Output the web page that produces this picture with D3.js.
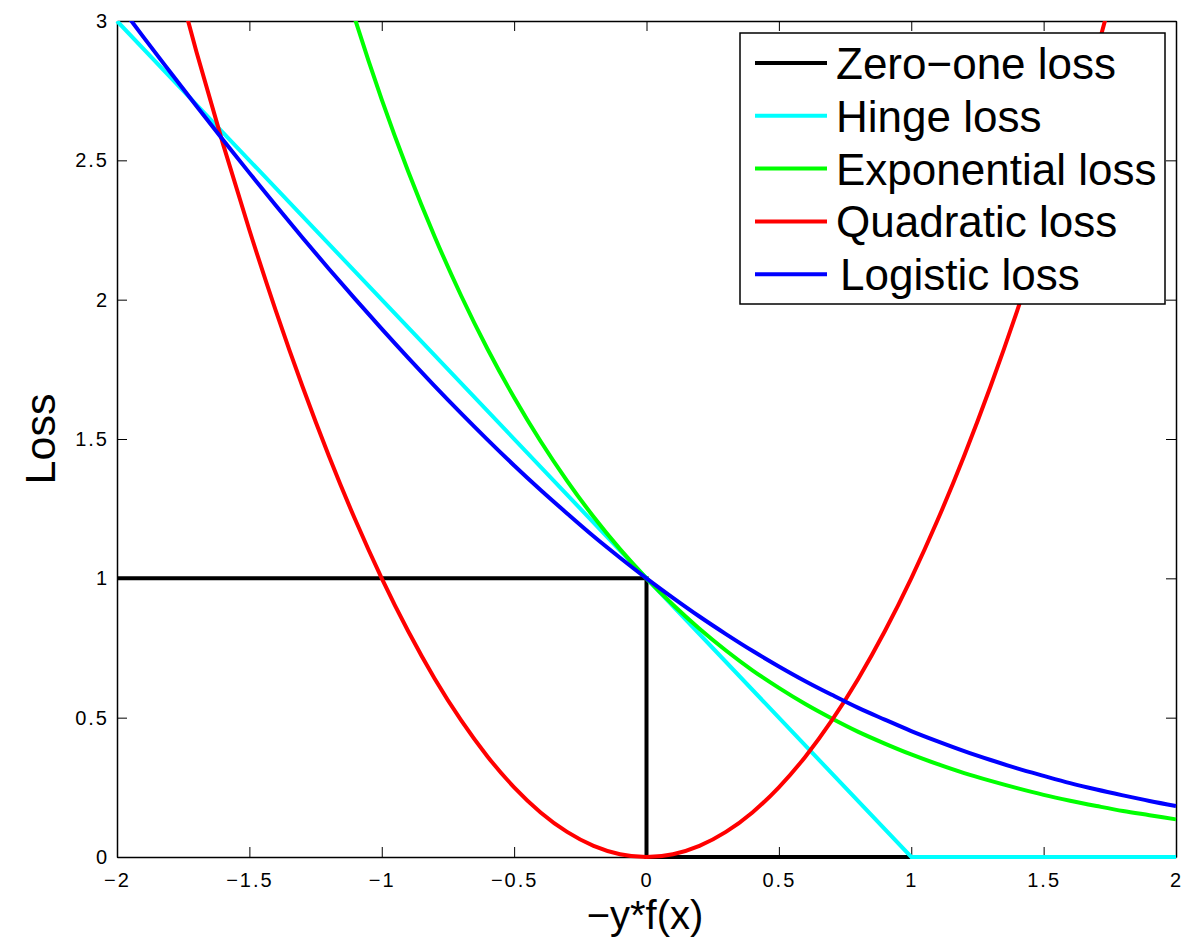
<!DOCTYPE html>
<html>
<head>
<meta charset="utf-8">
<script src="https://cdn.jsdelivr.net/npm/d3@7"></script>
<style>
  body { margin: 0; background: #fff; }
  text { font-family: "Liberation Sans", Arial, sans-serif; fill: #000; }
</style>
</head>
<body>
<script>
// data

var xs = [-2.0, -1.9, -1.8, -1.7, -1.6, -1.5, -1.4, -1.3, -1.2, -1.1, -1.0,
          -0.9, -0.8, -0.7, -0.6, -0.5, -0.4, -0.3, -0.2, -0.1, 0.0,
          0.1, 0.2, 0.3, 0.4, 0.5, 0.6, 0.7, 0.8, 0.9, 1.0,
          1.1, 1.2, 1.3, 1.4, 1.5, 1.6, 1.7, 1.8, 1.9, 2.0];

var quadraticLoss = [4.00, 3.61, 3.24, 2.89, 2.56, 2.25, 1.96, 1.69, 1.44, 1.21, 1.00,
                     0.81, 0.64, 0.49, 0.36, 0.25, 0.16, 0.09, 0.04, 0.01, 0.00,
                     0.01, 0.04, 0.09, 0.16, 0.25, 0.36, 0.49, 0.64, 0.81, 1.00,
                     1.21, 1.44, 1.69, 1.96, 2.25, 2.56, 2.89, 3.24, 3.61, 4.00];

var exponentialLoss = [7.389, 6.686, 6.050, 5.474, 4.953, 4.482, 4.055, 3.669, 3.320, 3.004, 2.718,
                       2.460, 2.226, 2.014, 1.822, 1.649, 1.492, 1.350, 1.221, 1.105, 1.000,
                       0.905, 0.819, 0.741, 0.670, 0.607, 0.549, 0.497, 0.449, 0.407, 0.368,
                       0.333, 0.301, 0.273, 0.247, 0.223, 0.202, 0.183, 0.165, 0.150, 0.135];

var logisticLoss = [3.069, 2.942, 2.818, 2.695, 2.574, 2.455, 2.338, 2.223, 2.111, 2.002, 1.895,
                    1.791, 1.690, 1.592, 1.497, 1.405, 1.317, 1.233, 1.151, 1.074, 1.000,
                    0.930, 0.863, 0.800, 0.740, 0.684, 0.631, 0.582, 0.535, 0.493, 0.452,
                    0.415, 0.380, 0.348, 0.318, 0.291, 0.265, 0.242, 0.221, 0.201, 0.183];

var hingeX = [-2, 1, 2];
var hingeLoss = [3, 0, 0];

var zeroOneX = [-2, 0, 0, 2];
var zeroOneLoss = [1, 1, 0, 0];

var xTicks = [-2, -1.5, -1, -0.5, 0, 0.5, 1, 1.5, 2];
var xTickLabels = ["\u22122", "\u22121.5", "\u22121", "\u22120.5", "0", "0.5", "1", "1.5", "2"];
var yTicks = [0, 0.5, 1, 1.5, 2, 2.5, 3];
var yTickLabels = ["0", "0.5", "1", "1.5", "2", "2.5", "3"];

var seriesNames = ["Zero\u2212one loss", "Hinge loss", "Exponential loss", "Quadratic loss", "Logistic loss"];
var seriesColors = ["#000000", "#00ffff", "#00ff00", "#ff0000", "#0000ff"];

// layout (note: "top" is taken by window.top, so plot edges get their own names)

var width = 1184, height = 938;
var plotLeft = 117, plotRight = 1176, plotTop = 21, plotBottom = 857;

var x = d3.scaleLinear().domain([-2, 2]).range([plotLeft, plotRight]);
var y = d3.scaleLinear().domain([0, 3]).range([plotBottom, plotTop]);

var svg = d3.select("body").append("svg")
    .attr("width", width)
    .attr("height", height);

svg.append("defs").append("clipPath")
    .attr("id", "plot-clip")
  .append("rect")
    .attr("x", plotLeft - 3).attr("y", plotTop)
    .attr("width", plotRight - plotLeft + 6).attr("height", plotBottom - plotTop + 3);

function zipPoints(xv, yv) {
  return xv.map(function(d, i) { return [d, yv[i]]; });
}

var series = [
  { points: zipPoints(zeroOneX, zeroOneLoss), curve: d3.curveLinear },
  { points: zipPoints(hingeX, hingeLoss), curve: d3.curveLinear },
  { points: zipPoints(xs, exponentialLoss), curve: d3.curveMonotoneX },
  { points: zipPoints(xs, quadraticLoss), curve: d3.curveMonotoneX },
  { points: zipPoints(xs, logisticLoss), curve: d3.curveMonotoneX }
];

// axes box with inward ticks on all four sides

function styleAxis(g) {
  g.attr("font-size", null).attr("font-family", null);
  g.selectAll(".domain").attr("stroke", "#000").attr("stroke-width", 1.5);
  g.selectAll(".tick line").attr("stroke", "#000").attr("stroke-width", 1);
  g.selectAll(".tick text")
      .style("font-family", "'Liberation Sans', Arial, sans-serif")
      .style("font-size", "20px")
      .style("letter-spacing", "2px")
      .attr("fill", "#000");
}

svg.append("g")
    .attr("transform", "translate(0," + plotBottom + ")")
    .call(d3.axisBottom(x).tickValues(xTicks).tickSizeInner(-10).tickSizeOuter(0).tickPadding(16)
        .tickFormat(function(d, i) { return xTickLabels[i]; }))
    .call(styleAxis);

svg.append("g")
    .attr("transform", "translate(0," + plotTop + ")")
    .call(d3.axisTop(x).tickValues(xTicks).tickSizeInner(-10).tickSizeOuter(0).tickFormat(""))
    .call(styleAxis);

svg.append("g")
    .attr("transform", "translate(" + plotLeft + ",0)")
    .call(d3.axisLeft(y).tickValues(yTicks).tickSizeInner(-10).tickSizeOuter(0).tickPadding(8)
        .tickFormat(function(d, i) { return yTickLabels[i]; }))
    .call(styleAxis);

svg.append("g")
    .attr("transform", "translate(" + plotRight + ",0)")
    .call(d3.axisRight(y).tickValues(yTicks).tickSizeInner(-10).tickSizeOuter(0).tickFormat(""))
    .call(styleAxis);

// curves

var curves = svg.append("g").attr("clip-path", "url(#plot-clip)").attr("fill", "none");
series.forEach(function(s, i) {
  curves.append("path")
      .datum(s.points)
      .attr("stroke", seriesColors[i])
      .attr("stroke-width", 4)
      .attr("d", d3.line().x(function(d) { return x(d[0]); }).y(function(d) { return y(d[1]); }).curve(s.curve));
});

// axis labels

svg.append("text")
    .attr("x", 645).attr("y", 929)
    .attr("text-anchor", "middle")
    .attr("font-size", 40)
    .text("\u2212y*f(x)");

svg.append("text")
    .attr("transform", "translate(55," + ((plotTop + plotBottom) / 2) + ") rotate(-90)")
    .attr("text-anchor", "middle")
    .attr("font-size", 43)
    .text("Loss");

// legend

var legend = svg.append("g").attr("class", "legend");
legend.append("rect")
    .attr("x", 740).attr("y", 33).attr("width", 425).attr("height", 271)
    .attr("fill", "#fff").attr("stroke", "#000").attr("stroke-width", 1.5);

seriesNames.forEach(function(name, i) {
  var ly = 63 + i * 52.8;
  legend.append("line")
      .attr("x1", 755).attr("x2", 827).attr("y1", ly).attr("y2", ly)
      .attr("stroke", seriesColors[i]).attr("stroke-width", 4);
  legend.append("text")
      .attr("x", i === 4 ? 840 : 836).attr("y", ly + 16)
      .attr("font-size", 44)
      .text(name);
});
</script>
</body>
</html>
